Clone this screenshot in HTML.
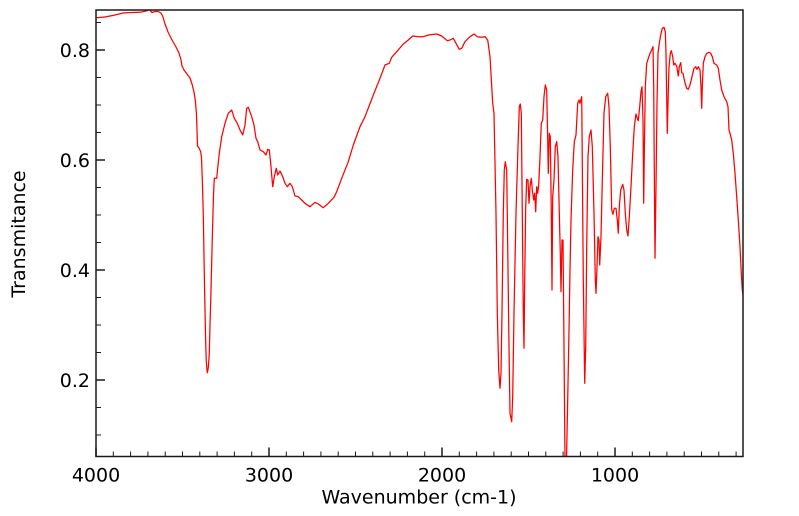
<!DOCTYPE html>
<html>
<head>
<meta charset="utf-8">
<style>
  html, body { margin: 0; padding: 0; background: #ffffff; }
  svg { display: block; }
  text { font-family: "DejaVu Sans", "Liberation Sans", sans-serif; fill: #000; }
</style>
</head>
<body>
<svg width="799" height="516" viewBox="0 0 799 516" xmlns="http://www.w3.org/2000/svg">
  <defs>
    <clipPath id="plot">
      <rect x="96" y="10" width="647" height="446.5"/>
    </clipPath>
  </defs>
  <rect x="0" y="0" width="799" height="516" fill="#ffffff"/>

  <!-- spectrum -->
  <polyline clip-path="url(#plot)" fill="none" stroke="#ff0000" stroke-width="1.25" stroke-linejoin="round" stroke-linecap="round"
    points="96,17.7 105,17 115,15 123,13 132,12.5 140,12.3 146,11 149.3,9.7 151,11.5 152,12.5 155,11.5 158,11.5 161,13 163,17 165,24 168,32 172,40 176,47 179,53 181,60 182,66 184,70 187,74 190,78 192,84 194,92 195.5,102 196.5,115 197,130 197.5,146 199,148 200.7,151.7 201.5,158 202.5,185 203.3,215 204,256.7 204.8,300 205.7,343 206.3,362 207.3,372.7 208.3,368 209.3,353 210,325 211,290 212,250 212.7,223 213.5,195 214.3,178.3 216.7,178.3 217.5,170 219.3,153.3 221.7,136.7 225,123.3 228.3,113.3 231.7,110 234.3,118.3 237.3,123.3 240,130 242.7,135 245,125 246.7,108.3 248.3,107.3 251.7,116.7 254,125 256,138.3 257.7,141.7 260,150 263.3,151.7 266,155 267.7,149.3 269.3,150 270.7,163.3 272.7,186.7 274.3,176.7 276.3,168.3 277.7,175 280,171 282.7,176.7 285,183.3 287.3,186.7 290,183.3 292.3,186.7 295,196 298.3,196.7 301.7,200 305,203.3 310,206.7 315,202.3 318.3,204 323.3,207.7 328.3,203.3 334,197.3 336.7,191.7 341.7,178.3 348.3,161.7 353.3,145 360,126.7 365,116.7 373.3,95 380,78.3 385,65 389.3,63.3 391.7,57.3 396.7,51.7 403.3,44 408.3,40 412.7,36 418.3,36.7 423.3,36.7 428.3,35 436.7,34 441.7,36 447.3,40.7 450,40 453.3,38.3 456,43.3 459.3,49.3 461.7,48.3 465,41.7 470,36.7 474,34 477.3,36.7 481.7,37.3 485,36.7 487.7,40 490,56.7 492.7,103.3 494,113.3 496,213 497.3,313 498.7,370 500,388.3 501,373 502,313 503.3,213 504.3,170 505.3,161.7 506.7,170 507.7,246.7 509,346.7 510,413.3 511.7,421.7 512.7,396.7 514,313 516,213 518,146.7 519.3,106.7 520.3,104 521.3,113.3 522.3,213 523.3,313 524,348.3 524.7,280 525.7,206.7 526.7,179.3 528,180 529,203.3 530,186.7 531.3,178.3 532.3,190 533.7,200 534.7,193.3 535.7,211.7 536.7,186.7 537.7,193.3 538.7,185 540,156.7 541.3,123.3 542.7,120 544,96.7 545.3,85 546.7,90 547.7,140 548.3,173.3 549.3,133.3 550.3,136.7 551.3,213.3 552,290 552.7,196.7 554,180 555.3,146.7 556.7,141.7 558,156.7 559.3,213.3 560.3,253.3 561,291.7 562,240 563,240 564,346.7 565,460 566.5,460 567.7,400 569,330 570,270 571,220 572.7,170 574.3,141.7 576,135 577.7,103.3 579,100 580,103.3 581.7,96.7 582.3,163.3 583.3,280 584.7,383.3 585.7,346.7 586.7,246.7 588,156.7 589.3,136.7 591,130 592.3,146.7 594,213.3 595.3,280 596,293.3 597,266.7 598,236.7 599,240 599.7,265 601,236.7 602.3,180 604,113.3 605.7,96.7 607.7,93.3 609,106.7 610.3,146.7 611.7,210 613,214.3 614.3,208.3 616,208.3 617.3,220 618.3,233.3 619.3,206.7 620.7,190 622.7,184.3 624,190 625.3,213.3 626.7,230 628,236 629.3,216.7 631,186.7 632.7,153.3 634.3,126.7 636,114 637.3,118.3 638.3,120.7 639.7,106.7 641,91.7 642,86.7 643,120 643.7,203.3 644.3,153.3 645.3,86.7 646.7,63.3 648.3,58.3 650,53.3 651.7,50 653,46.7 653.7,86.7 654.3,170 655,258.3 656,186.7 657,103.3 658,53.3 659.3,43.3 660.7,35 662.3,28.3 664,27.3 665.3,31.7 666,53.3 666.7,96.7 667.3,133.3 668,103.3 669,66.7 670.3,53.3 671.3,50.7 672.7,56.7 673.7,65 675,63.3 676.7,66 678.3,76 679.3,66.7 680.7,62.7 681.7,72.7 683,73.3 684.7,81.7 686.7,88.3 688.3,89.3 690,85 692,76.7 694,68.3 695.7,66.7 697,69.3 698.3,66.7 700,70 701,86.7 701.7,108.3 702.3,86.7 703.3,63.3 705,56.7 706.7,53.3 709,52.3 710.7,53.3 712.3,56.7 714,63.3 716.7,65 718.3,68.3 720,80 721.7,90 724,96.7 726.7,101.7 728,106.7 729,130 730,133.3 731.7,140 733.3,153.3 735,173.3 736.7,196.7 738.3,220 740,246.7 741.3,273.3 742.3,290 743,295"/>

  <!-- axes frame -->
  <rect x="96" y="10" width="647" height="446.5" fill="none" stroke="#1a1a1a" stroke-width="1.5"/>

  <!-- x major ticks -->
  <g stroke="#1a1a1a" stroke-width="1.5">
    <line x1="96" y1="456.5" x2="96" y2="447.5"/>
    <line x1="269" y1="456.5" x2="269" y2="447.5"/>
    <line x1="442" y1="456.5" x2="442" y2="447.5"/>
    <line x1="615" y1="456.5" x2="615" y2="447.5"/>
  </g>
  <!-- x minor ticks every 100 -->
  <g stroke="#1a1a1a" stroke-width="1">
    <line x1="113.3" y1="456.5" x2="113.3" y2="451.5"/>
    <line x1="130.6" y1="456.5" x2="130.6" y2="451.5"/>
    <line x1="147.9" y1="456.5" x2="147.9" y2="451.5"/>
    <line x1="165.2" y1="456.5" x2="165.2" y2="451.5"/>
    <line x1="182.5" y1="456.5" x2="182.5" y2="451.5"/>
    <line x1="199.8" y1="456.5" x2="199.8" y2="451.5"/>
    <line x1="217.1" y1="456.5" x2="217.1" y2="451.5"/>
    <line x1="234.4" y1="456.5" x2="234.4" y2="451.5"/>
    <line x1="251.7" y1="456.5" x2="251.7" y2="451.5"/>
    <line x1="286.3" y1="456.5" x2="286.3" y2="451.5"/>
    <line x1="303.6" y1="456.5" x2="303.6" y2="451.5"/>
    <line x1="320.9" y1="456.5" x2="320.9" y2="451.5"/>
    <line x1="338.2" y1="456.5" x2="338.2" y2="451.5"/>
    <line x1="355.5" y1="456.5" x2="355.5" y2="451.5"/>
    <line x1="372.8" y1="456.5" x2="372.8" y2="451.5"/>
    <line x1="390.1" y1="456.5" x2="390.1" y2="451.5"/>
    <line x1="407.4" y1="456.5" x2="407.4" y2="451.5"/>
    <line x1="424.7" y1="456.5" x2="424.7" y2="451.5"/>
    <line x1="459.3" y1="456.5" x2="459.3" y2="451.5"/>
    <line x1="476.6" y1="456.5" x2="476.6" y2="451.5"/>
    <line x1="493.9" y1="456.5" x2="493.9" y2="451.5"/>
    <line x1="511.2" y1="456.5" x2="511.2" y2="451.5"/>
    <line x1="528.5" y1="456.5" x2="528.5" y2="451.5"/>
    <line x1="545.8" y1="456.5" x2="545.8" y2="451.5"/>
    <line x1="563.1" y1="456.5" x2="563.1" y2="451.5"/>
    <line x1="580.4" y1="456.5" x2="580.4" y2="451.5"/>
    <line x1="597.7" y1="456.5" x2="597.7" y2="451.5"/>
    <line x1="632.3" y1="456.5" x2="632.3" y2="451.5"/>
    <line x1="649.6" y1="456.5" x2="649.6" y2="451.5"/>
    <line x1="666.9" y1="456.5" x2="666.9" y2="451.5"/>
    <line x1="684.2" y1="456.5" x2="684.2" y2="451.5"/>
    <line x1="701.5" y1="456.5" x2="701.5" y2="451.5"/>
    <line x1="718.8" y1="456.5" x2="718.8" y2="451.5"/>
    <line x1="736.1" y1="456.5" x2="736.1" y2="451.5"/>
  </g>

  <!-- y major ticks -->
  <g stroke="#1a1a1a" stroke-width="1.5">
    <line x1="96" y1="50" x2="105" y2="50"/>
    <line x1="96" y1="160" x2="105" y2="160"/>
    <line x1="96" y1="270" x2="105" y2="270"/>
    <line x1="96" y1="380" x2="105" y2="380"/>
  </g>
  <!-- y minor ticks every 0.05 -->
  <g stroke="#1a1a1a" stroke-width="1">
    <line x1="96" y1="22.5" x2="101" y2="22.5"/>
    <line x1="96" y1="77.5" x2="101" y2="77.5"/>
    <line x1="96" y1="105" x2="101" y2="105"/>
    <line x1="96" y1="132.5" x2="101" y2="132.5"/>
    <line x1="96" y1="187.5" x2="101" y2="187.5"/>
    <line x1="96" y1="215" x2="101" y2="215"/>
    <line x1="96" y1="242.5" x2="101" y2="242.5"/>
    <line x1="96" y1="297.5" x2="101" y2="297.5"/>
    <line x1="96" y1="325" x2="101" y2="325"/>
    <line x1="96" y1="352.5" x2="101" y2="352.5"/>
    <line x1="96" y1="407.5" x2="101" y2="407.5"/>
    <line x1="96" y1="435" x2="101" y2="435"/>
  </g>

  <!-- y tick labels -->
  <g font-size="19" text-anchor="end">
    <text x="90" y="57">0.8</text>
    <text x="90" y="167">0.6</text>
    <text x="90" y="277">0.4</text>
    <text x="90" y="387">0.2</text>
  </g>

  <!-- x tick labels -->
  <g font-size="19" text-anchor="middle">
    <text x="96" y="481.5">4000</text>
    <text x="269" y="481.5">3000</text>
    <text x="442" y="481.5">2000</text>
    <text x="615" y="481.5">1000</text>
  </g>

  <!-- axis labels -->
  <text x="419" y="503.5" font-size="19" text-anchor="middle">Wavenumber (cm-1)</text>
  <text x="0" y="0" font-size="19" text-anchor="middle" transform="translate(25,234) rotate(-90)">Transmitance</text>
</svg>
</body>
</html>
